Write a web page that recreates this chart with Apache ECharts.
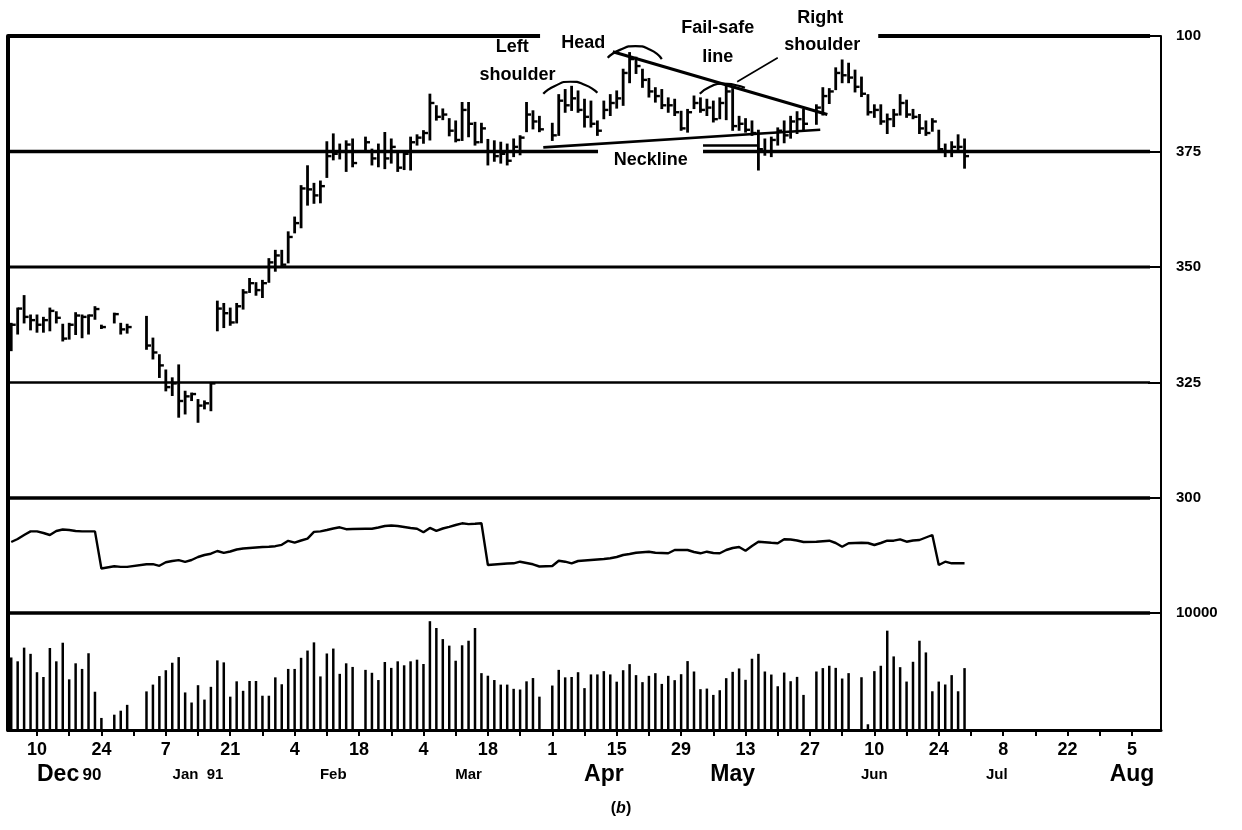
<!DOCTYPE html>
<html><head><meta charset="utf-8">
<script src="https://cdn.jsdelivr.net/npm/echarts/dist/echarts.min.js"></script>
<style>html,body{margin:0;padding:0;background:#fff}#c{width:1242px;height:830px}</style>
</head><body><div id="c"></div>
<script>
// ---------- categories: trading weekdays from 4 Dec 1990 to 9 Aug 1991 ----------
const startDate = '1990-12-04';
const nDays = 179;
const dates = [];
(function(){ let d = new Date(startDate + 'T00:00:00Z');
  while (dates.length < nDays) { const w = d.getUTCDay();
    if (w !== 0 && w !== 6) dates.push(d.toISOString().slice(0,10));
    d.setUTCDate(d.getUTCDate()+1); } })();

// ---------- price bars (high / low / close), index = trading day ----------
const highs = [337.7,341.0,343.7,339.5,339.5,339.0,341.0,340.2,337.5,337.7,
340.0,339.5,339.5,341.3,337.3,null,339.9,337.7,337.5,null,
null,339.2,334.5,330.9,327.6,325.9,328.7,323.0,322.6,321.2,
320.9,324.8,342.5,342.0,341.0,342.0,345.0,347.4,346.5,347.0,
351.7,353.5,353.5,357.5,360.7,367.5,371.8,368.0,368.5,377.0,
378.7,376.5,377.2,377.6,null,378.0,375.4,376.5,379.0,377.6,
374.5,375.0,378.0,378.5,379.4,387.3,384.8,384.1,382.0,381.5,
385.5,385.5,381.2,381.0,377.5,377.2,376.9,376.5,377.6,378.3,
385.5,383.7,382.5,null,381.0,387.2,388.3,389.0,388.0,386.2,
385.8,381.5,385.8,387.2,388.0,392.7,396.3,395.3,392.7,390.7,
388.7,388.3,386.5,386.2,383.6,384.0,386.9,386.5,386.2,385.8,
386.5,389.0,388.5,382.5,382.0,381.5,379.5,377.6,378.0,380.0,
381.5,382.5,383.5,384.0,null,385.0,388.7,388.5,393.0,394.7,
394.0,392.5,391.0,387.2,385.0,385.0,383.0,384.0,387.2,386.0,
384.0,382.9,381.5,382.0,379.5,376.5,377.0,378.5,377.6];
const lows = [332.0,335.6,338.0,336.5,336.0,336.0,336.3,338.0,334.1,334.5,
335.5,334.8,335.6,338.8,336.8,null,338.0,335.6,335.8,null,
null,332.3,330.2,326.2,323.3,322.3,317.6,318.3,321.2,316.5,
319.4,319.0,336.3,337.0,337.5,338.0,341.0,344.6,344.0,343.5,
346.8,349.2,350.0,351.0,357.5,358.6,363.5,363.9,364.0,369.5,
373.3,373.5,370.8,371.8,null,375.4,372.2,371.8,371.4,372.6,
370.8,371.2,371.1,376.5,376.9,377.6,381.9,382.0,378.5,377.2,
377.5,378.3,376.5,377.0,372.2,373.0,372.6,372.2,374.0,374.4,
379.4,380.0,379.4,null,377.5,378.6,383.6,384.0,383.6,380.4,
380.4,378.6,382.2,382.9,384.5,385.1,390.0,392.0,389.0,386.9,
385.8,384.4,383.6,382.9,379.7,379.3,384.4,383.6,382.9,381.5,
382.2,382.0,379.7,379.7,379.3,378.6,371.1,374.3,374.0,376.5,
377.0,378.0,379.0,379.5,null,381.0,383.0,385.5,388.5,390.0,
390.0,388.0,387.0,383.0,382.5,381.0,379.0,380.5,383.0,382.5,
382.2,379.0,378.6,379.5,375.0,374.0,374.0,375.0,371.5];
const closes = [337.5,341.0,339.2,338.5,337.5,338.5,340.5,339.0,334.5,337.5,
339.5,339.2,339.5,340.9,337.0,null,339.8,336.5,337.0,null,
null,333.0,331.5,328.7,324.0,324.8,321.0,322.0,322.5,320.0,
320.5,324.8,341.0,340.0,338.0,341.5,344.5,346.5,345.0,346.5,
351.0,352.5,350.5,356.5,359.5,367.0,366.8,365.5,367.5,374.0,
374.5,375.0,376.5,372.5,null,377.0,373.5,375.0,373.5,376.0,
371.5,374.5,377.0,378.0,379.0,385.5,382.5,383.0,379.5,377.5,
384.0,381.0,377.0,380.0,375.0,374.0,374.5,373.0,376.0,378.0,
383.0,381.5,379.8,null,378.5,386.0,385.0,386.5,384.0,382.5,
381.0,379.5,384.0,385.5,386.5,392.0,395.0,393.5,390.5,388.0,
387.0,385.0,385.0,383.5,380.0,383.5,385.5,384.0,384.5,382.0,
385.5,388.0,380.5,381.0,379.7,379.0,375.5,375.0,377.5,379.5,
378.5,381.5,382.0,381.0,null,384.5,387.0,388.0,392.0,391.5,
391.0,389.0,387.5,383.5,384.0,381.5,382.0,383.0,385.5,383.0,
382.5,380.0,379.0,381.5,375.5,375.0,376.0,376.0,374.0];

// ---------- open interest (unlabelled panel, relative units) ----------
const openInterest = [71,74,78,81.6,81.6,80,78,82,83.5,83,
82,81.6,81.6,81.6,44.5,null,46.7,46.1,46.1,null,
null,48.8,48.8,47.2,50.7,52,52.9,51.2,53,56,
58,59.3,62,60.1,61.5,63.5,64.5,65,65.5,66,
66.3,66.8,68.2,72.2,70.3,72.5,74.4,81.1,81.6,83,
84.5,85.7,83.8,84,null,84.2,84.3,85.5,87,87.5,
87,86,85,84.3,80.8,85.1,82.2,84.5,86.2,88,
89.7,88.9,89.2,89.7,48,48.5,49,49.5,49.7,51.3,
50,48.7,46.5,null,47,52.3,51.3,49.7,52,52.5,
53,53.5,54,54.7,56,58,59,60.3,60.8,61.3,
60.3,60,59.7,63,63,63,61,59.7,61.3,60,
59.7,63,65,66,62.3,67,71.3,70.8,70.2,69.7,
73.7,73.5,72.5,71,null,71.3,71.8,72.3,70,66.3,
69.7,70,70.3,70,68,70,72.3,72.3,73.7,71.3,
72.5,73,75.5,78,48,51.3,49.7,49.7,49.7];

// ---------- volume ----------
const volume = [6200,5870,7040,6510,4940,4530,7010,5870,7460,4330,
5700,5220,6560,3270,1030,null,1310,1650,2150,null,
null,3300,3880,4610,5110,5750,6230,3210,2350,3830,
2600,3690,5950,5780,2850,4160,3350,4190,4190,2930,
2930,4500,3910,5220,5220,6170,6790,7490,4580,6540,
6960,4800,5700,5390,null,5140,4890,4270,5810,5310,
5870,5530,5870,6010,5640,9300,8720,7770,7210,5920,
7240,7630,8720,4860,4640,4270,3880,3880,3520,3460,
4160,4440,2850,null,3800,5140,4500,4530,4940,3580,
4750,4750,5030,4750,4130,5110,5630,4690,4090,4630,
4860,3940,4630,4260,4770,5890,5000,3490,3540,3000,
3400,4430,4970,5260,4290,6090,6510,5000,4740,3740,
4910,4170,4540,3000,null,5000,5290,5490,5310,4400,
4860,null,4510,490,5030,5490,8490,6290,5370,4140,
5830,7630,6630,3310,4140,3890,4690,3310,5290];

// ---------- tick labels ----------
const priceTickValues = [300,325,350,375,400];
const priceTickLabels = ['300','325','350','375','100'];
const volumeTickLabel = '10000';
const monthLabelDates = ['1990-12-17','1991-01-14','1991-02-12','1991-03-13','1991-04-11','1991-05-09','1991-06-10','1991-07-05','1991-08-05'];
const monthLabels = ['{b|Dec} {m|90}','{s|Jan  91}','{s|Feb}','{s|Mar}','{b|Apr}','{b|May}','{s|Jun}','{s|Jul}','{b|Aug}'];

// ---------- annotations (in day-index / price units) ----------
const hLines = [ // [price, fromDay, toDay, width]
  [400,-0.5,82.1,4],[400,134.6,176.8,4],
  [375,-0.5,91.1,3.5],[375,107.4,176.8,3.5],
  [350,-0.5,176.8,3],[325,-0.5,176.8,2.5],[300,-0.5,176.8,3.5]];
const failSafeLine = [[93.4,396.6],[126.7,383.0]];
const pointerLine = [[119.0,395.3],[112.7,390.1]];
const neckLine = [[82.6,375.9],[125.6,379.7]];
const neckUnderLine = [[107.4,376.3],[115.8,376.3]];
const leftArc = [[82.6,387.5],[84.4,389.2],[86.8,390.1],[89.1,389.4],[91.0,387.7]];
const headArc = [[92.6,395.3],[94.5,397.0],[96.9,397.8],[99.2,397.0],[101.0,395.0]];
const failArc = [[106.9,387.5],[108.5,389.0],[110.4,389.7],[112.4,389.4],[113.9,388.8]];
const noteTexts = [
  {name:'Left', value:[77.8,397.6]},{name:'shoulder', value:[78.6,391.6]},
  {name:'Head', value:[88.8,398.5]},
  {name:'Fail-safe', value:[109.7,401.7]},{name:'line', value:[109.7,395.5]},
  {name:'Right', value:[125.6,403.9]},{name:'shoulder', value:[125.9,398.1]},
  {name:'Neckline', value:[99.3,373.1]}];

// ---------- build ----------
const ohlc = [];
for (let i = 0; i < highs.length; i++) if (highs[i] != null) ohlc.push([i, highs[i], lows[i], closes[i]]);

const FONT = "'Liberation Sans', Arial, sans-serif";
const chart = echarts.init(document.getElementById('c'), null, {renderer:'canvas'});
const grids = [
  {left:8, right:81, top:36, height:462},
  {left:8, right:81, top:498, height:115},
  {left:8, right:81, top:613, height:117}];
const hidCat = (g) => ({type:'category', gridIndex:g, data:dates, show:false, boundaryGap:true, axisLine:{onZero:false}});
const hidVal = (g) => ({type:'value', gridIndex:g, min:-0.5, max:nDays-0.5, show:false, axisLine:{onZero:false}});
const leftLine = (g) => ({type:'value', gridIndex:g, position:'left', axisLine:{show:true, onZero:false, lineStyle:{color:'#000', width:4}}, axisTick:{show:false}, axisLabel:{show:false}, splitLine:{show:false}});
const black = '#000';
function seg(data, w, smooth){ return {type:'line', xAxisIndex:1, yAxisIndex:0, data:data, symbol:'none', smooth:smooth||false, clip:false, silent:true, lineStyle:{color:black, width:w}, z:4}; }

const series = [];
hLines.forEach(h => series.push(Object.assign(seg([[h[1],h[0]],[h[2],h[0]]], h[3]), {z:2})));
series.push({type:'line', xAxisIndex:5, yAxisIndex:4, data:[[-0.5,10000],[176.8,10000]], symbol:'none', silent:true, clip:false, lineStyle:{color:black,width:3.5}, z:2});
series.push({type:'custom', xAxisIndex:0, yAxisIndex:0, data:ohlc, encode:{x:0, y:[1,2,3]}, z:5,
  renderItem:function(params, api){
    const k = api.value(0);
    const hi = api.coord([k, api.value(1)]), lo = api.coord([k, api.value(2)]), cl = api.coord([k, api.value(3)]);
    return {type:'group', children:[
      {type:'line', shape:{x1:hi[0], y1:hi[1]-1, x2:lo[0], y2:lo[1]+1}, style:{stroke:black, lineWidth:2.8}},
      {type:'line', shape:{x1:cl[0], y1:cl[1], x2:cl[0]+4.5, y2:cl[1]}, style:{stroke:black, lineWidth:2.4}}]};
  }});
series.push(seg(failSafeLine, 3));
series.push(seg(pointerLine, 1.6));
series.push(seg(neckLine, 2.6));
series.push(seg(neckUnderLine, 2.4));
series.push(seg(leftArc, 2.2, 0.6));
series.push(seg(headArc, 2.2, 0.6));
series.push(seg(failArc, 2.2, 0.6));
series.push({type:'scatter', xAxisIndex:1, yAxisIndex:0, data:noteTexts, symbolSize:1, clip:false, silent:true, z:6,
  itemStyle:{color:'#fff', opacity:0},
  label:{show:true, position:'inside', formatter:'{b}', color:black, opacity:1, textBorderWidth:0, fontFamily:FONT, fontWeight:'bold', fontSize:18}});
series.push({type:'line', xAxisIndex:2, yAxisIndex:2, data:openInterest, connectNulls:true, symbol:'none', silent:true, lineStyle:{color:black, width:2.4}, z:5});
series.push({type:'bar', xAxisIndex:3, yAxisIndex:4, data:volume, barWidth:2.5, silent:true, itemStyle:{color:black}, z:5});

const richM = {
  b:{fontSize:23, fontWeight:'bold', fontFamily:"'Liberation Sans Narrow','Liberation Sans',Arial", color:black, lineHeight:26},
  m:{fontSize:17, fontWeight:'bold', fontFamily:FONT, color:black, lineHeight:26},
  s:{fontSize:15, fontWeight:'bold', fontFamily:FONT, color:black, lineHeight:26}};

chart.setOption({
  animation:false,
  backgroundColor:'#fff',
  title:{text:'({i|b})', left:'center', top:796, textStyle:{fontSize:16, fontWeight:'bold', fontFamily:FONT, color:black,
    rich:{i:{fontSize:16, fontStyle:'italic', fontWeight:'bold', fontFamily:FONT, color:black}}}},
  grid:grids,
  xAxis:[hidCat(0), hidVal(0), hidCat(1),
    {type:'category', gridIndex:2, data:dates, boundaryGap:true,
      axisLine:{show:true, onZero:false, lineStyle:{color:black, width:3}},
      axisTick:{show:true, alignWithLabel:true, length:6, lineStyle:{color:black, width:2}, interval:(i)=> i % 5 === 4},
      axisLabel:{show:true, interval:(i)=> i % 10 === 4, margin:11, color:black, fontFamily:FONT, fontWeight:'bold', fontSize:18,
        formatter:(v)=> String(parseInt(v.slice(8,10),10))}},
    {type:'category', gridIndex:2, data:dates, boundaryGap:true, position:'bottom',
      axisLine:{show:false, onZero:false}, axisTick:{show:false},
      axisLabel:{show:true, interval:0, margin:32, hideOverlap:false,
        formatter:(v)=> { const j = monthLabelDates.indexOf(v); return j >= 0 ? monthLabels[j] : ''; }, rich:richM}},
    hidVal(2)],
  yAxis:[
    {type:'value', gridIndex:0, position:'right', min:300, max:400, interval:25,
      axisLine:{show:true, onZero:false, lineStyle:{color:black, width:2}},
      axisTick:{show:true, inside:true, length:13, lineStyle:{color:black, width:2}},
      axisLabel:{show:true, margin:15, color:black, fontFamily:FONT, fontWeight:'bold', fontSize:15,
        formatter:(v)=> { const j = priceTickValues.indexOf(v); return j >= 0 ? priceTickLabels[j] : ''; }},
      splitLine:{show:false}},
    leftLine(0),
    {type:'value', gridIndex:1, position:'right', min:0, max:115,
      axisLine:{show:true, onZero:false, lineStyle:{color:black, width:2}}, axisTick:{show:false}, axisLabel:{show:false}, splitLine:{show:false}},
    leftLine(1),
    {type:'value', gridIndex:2, position:'right', min:0, max:10000, interval:10000,
      axisLine:{show:true, onZero:false, lineStyle:{color:black, width:2}},
      axisTick:{show:true, inside:true, length:13, lineStyle:{color:black, width:2}},
      axisLabel:{show:true, margin:15, color:black, fontFamily:FONT, fontWeight:'bold', fontSize:15,
        formatter:(v)=> v === 10000 ? volumeTickLabel : ''},
      splitLine:{show:false}},
    leftLine(2)],
  series:series
});
</script></body></html>
